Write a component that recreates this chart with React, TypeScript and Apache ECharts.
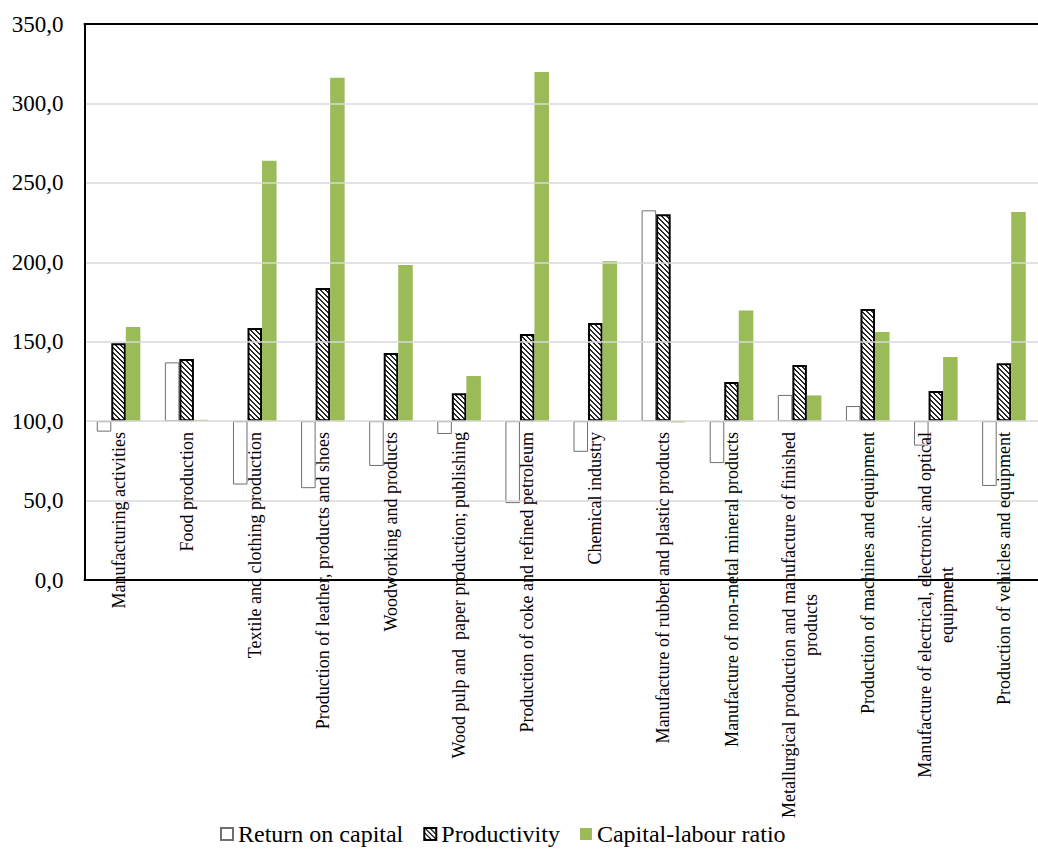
import React, { useEffect, useRef } from 'react';
import * as echarts from 'echarts';

const FONT = 'Liberation Serif';

const categories = [
  'Manufacturing activities',
  'Food production',
  'Textile and clothing production',
  'Production of leather, products and shoes',
  'Woodworking and products',
  'Wood pulp and  paper production; publishing',
  'Production of coke and refined petroleum',
  'Chemical industry',
  'Manufacture of rubber and plastic products',
  'Manufacture of non-metal mineral products',
  'Metallurgical production and manufacture of finished\nproducts',
  'Production of machines and equipment',
  'Manufacture of electrical, electronic and optical\nequipment',
  'Production of vehicles and equipment',
];

const returnOnCapital = [93.4, 137.0, 60.1, 57.8, 71.8, 91.9, 48.4, 80.7, 232.7, 73.6, 116.5, 109.5, 84.6, 59.2];
const productivity = [149.0, 139.1, 158.7, 183.8, 142.9, 117.6, 154.9, 161.8, 230.3, 124.7, 135.3, 170.6, 119.0, 136.5];
const capitalLabour = [159.2, 100.8, 263.9, 316.1, 198.3, 128.4, 319.8, 200.6, 99.2, 169.7, 116.2, 156.1, 140.3, 231.7];

const yTicks = [0, 50, 100, 150, 200, 250, 300, 350];
const BASELINE = 100;

function makeHatch(): HTMLCanvasElement {
  const P = 5;
  const c = document.createElement('canvas');
  c.width = P;
  c.height = P;
  const ctx = c.getContext('2d')!;
  ctx.fillStyle = '#ffffff';
  ctx.fillRect(0, 0, P, P);
  ctx.fillStyle = '#2a2a2a';
  for (let y = 0; y < P; y++) {
    ctx.fillRect(y % P, y, 1, 1);
    ctx.fillRect((y + 1) % P, y, 1, 1);
  }
  return c;
}

export default function App() {
  const ref = useRef<HTMLDivElement>(null);

  useEffect(() => {
    if (!ref.current) return;
    const chart = echarts.init(ref.current, null, { renderer: 'svg' });
    const hatch = makeHatch();

    const defs: any[] = [
      {
        name: 'Return on capital',
        data: returnOnCapital,
        itemStyle: { color: '#ffffff', borderColor: '#6f6f6f', borderWidth: 1 },
      },
      {
        name: 'Productivity',
        data: productivity,
        itemStyle: {
          color: { image: hatch, repeat: 'repeat' },
          borderColor: '#000000',
          borderWidth: 2,
        },
      },
      {
        name: 'Capital-labour ratio',
        data: capitalLabour,
        itemStyle: { color: '#9bbb59' },
      },
    ];

    const series: any[] = [];
    defs.forEach((d, k) => {
      const stack = 'stack' + k;
      series.push({
        type: 'bar',
        name: '__base' + k,
        stack,
        data: d.data.map((v: number) => Math.min(v, BASELINE)),
        itemStyle: { color: 'rgba(0,0,0,0)' },
        barGap: '0%',
        barCategoryGap: '36%',
        silent: true,
        emphasis: { disabled: true },
      });
      series.push({
        type: 'bar',
        name: d.name,
        stack,
        data: d.data.map((v: number) => Math.abs(v - BASELINE)),
        itemStyle: d.itemStyle,
        barGap: '0%',
        barCategoryGap: '36%',
        emphasis: { disabled: true },
      });
    });

    chart.setOption({
      animation: false,
      backgroundColor: '#ffffff',
      textStyle: { fontFamily: FONT },
      grid: { left: 84.5, right: -11, top: 24, bottom: 283, containLabel: false },
      legend: {
        data: defs.map((d) => d.name),
        left: 215,
        top: 817,
        icon: 'rect',
        itemWidth: 12,
        itemHeight: 12,
        itemGap: 20,
        selectedMode: false,
        formatter: (name: string) => '{t|' + name + '}',
        textStyle: {
          fontFamily: FONT,
          fontSize: 24,
          color: '#000',
          rich: { t: { fontFamily: FONT, fontSize: 24, color: '#000', lineHeight: 26 } },
        },
      },
      xAxis: [
        {
          type: 'category',
          data: categories,
          position: 'bottom',
          z: 10,
          axisLine: { show: true, lineStyle: { color: '#000', width: 2 } },
          axisTick: { show: false },
          splitLine: { show: false },
          axisLabel: {
            interval: 0,
            rotate: 90,
            margin: -148,
            color: '#000',
            fontFamily: FONT,
            fontSize: 18,
            lineHeight: 22,
            formatter: (v: string) =>
              v
                .split('\n')
                .map((s) => '{c|' + s + '}')
                .join('\n'),
            rich: {
              c: {
                align: 'center',
                fontFamily: FONT,
                fontSize: 18,
                lineHeight: 22,
                color: '#000',
              },
            },
          },
        },
        {
          type: 'category',
          data: categories,
          position: 'top',
          z: 10,
          axisLine: { show: true, lineStyle: { color: '#000', width: 2 } },
          axisTick: { show: false },
          axisLabel: { show: false },
          splitLine: { show: false },
        },
      ],
      yAxis: {
        type: 'value',
        min: yTicks[0],
        max: yTicks[yTicks.length - 1],
        interval: 50,
        z: 10,
        axisLine: { show: true, lineStyle: { color: '#000', width: 2 } },
        axisTick: { show: false },
        splitLine: { show: true, lineStyle: { color: '#d9d9d9', width: 1.5 } },
        axisLabel: {
          margin: 21,
          color: '#000',
          fontFamily: FONT,
          fontSize: 23,
          formatter: (v: number) => '{y|' + v.toFixed(1).replace('.', ',') + '}',
          rich: { y: { fontFamily: FONT, fontSize: 23, color: '#000', lineHeight: 26 } },
        },
      },
      series,
    });

    return () => chart.dispose();
  }, []);

  return (
    <div
      ref={ref}
      style={{ position: 'fixed', left: 0, top: 0, width: 1038, height: 863, background: '#fff' }}
    />
  );
}
